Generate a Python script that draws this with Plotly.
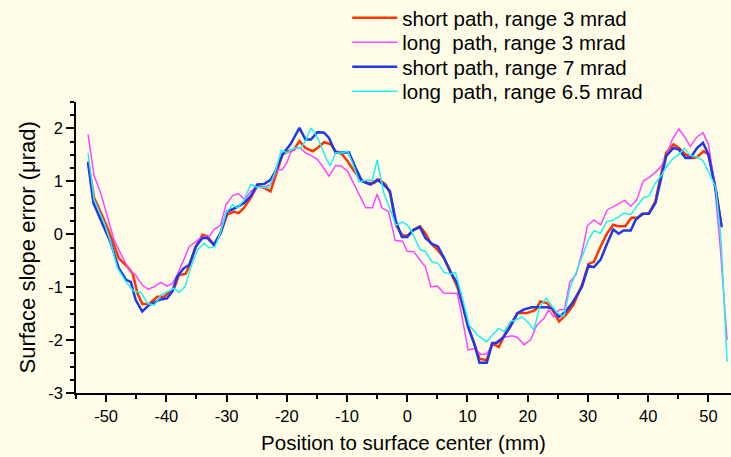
import plotly.graph_objects as go

# ---- data ----
x_red = [-53.0,-52.0,-50.6,-49.2,-47.9,-46.5,-45.6,-44.8,-44.0,-42.9,-41.5,-40.4,-38.7,-37.9,-36.8,-36.2,-35.1,-34.0,-33.2,-32.1,
         -31.0,-29.9,-28.8,-28.0,-27.1,-26.0,-24.9,-23.8,-22.7,-21.9,-20.7,-19.7,-18.8,-17.9,-16.9,-15.7,-14.9,-13.8,-12.7,-11.9,
         -10.8,-9.9,-8.8,-7.7,-6.6,-5.5,-4.7,-3.6,-2.8,-1.9,-0.8,0.0,1.1,2.1,3.0,3.9,5.0,6.1,7.2,8.3,
         9.4,10.3,11.1,12.0,13.2,14.1,15.2,16.3,17.1,18.3,19.9,21.3,22.1,23.2,24.1,25.2,26.3,27.6,29.0,30.1,
         31.0,32.1,33.2,34.2,35.1,36.2,37.2,38.2,39.3,40.1,41.2,42.0,43.0,44.2,45.1,46.2,47.3,48.1,49.2,50.0,
         51.2,52.2]
y_red = [1.38,0.69,0.34,-0.04,-0.45,-0.61,-0.74,-1.11,-1.32,-1.32,-1.18,-1.18,-1.02,-0.77,-0.75,-0.60,-0.23,-0.01,-0.04,-0.20,
         0.02,0.37,0.43,0.40,0.50,0.69,0.91,0.88,0.81,1.10,1.51,1.57,1.60,1.76,1.63,1.57,1.63,1.74,1.70,1.57,
         1.51,1.38,1.19,1.03,0.97,0.97,1.04,0.94,0.76,0.18,-0.02,-0.03,0.09,0.15,0.02,-0.17,-0.29,-0.45,-0.71,-0.99,
         -1.43,-1.81,-2.06,-2.35,-2.38,-2.06,-2.13,-1.87,-1.72,-1.49,-1.49,-1.43,-1.27,-1.30,-1.43,-1.65,-1.53,-1.33,-0.96,-0.56,
         -0.52,-0.23,0.02,0.18,0.15,0.15,0.31,0.31,0.39,0.39,0.62,1.07,1.54,1.70,1.63,1.51,1.44,1.46,1.57,1.51,
         0.87,0.15]

x_magenta = [-53.0,-52.0,-50.9,-49.8,-48.7,-47.6,-46.2,-45.1,-44.0,-43.0,-42.0,-40.9,-39.9,-39.0,-38.2,-37.1,-36.2,-35.1,-34.0,-32.9,
             -32.1,-31.0,-30.1,-29.0,-28.0,-27.0,-26.0,-24.9,-23.8,-22.7,-21.6,-20.8,-20.0,-19.4,-18.6,-17.7,-16.9,-16.0,-14.9,-14.1,
             -13.0,-11.9,-11.0,-9.9,-9.1,-8.3,-7.7,-6.9,-5.8,-5.0,-4.2,-3.1,-2.0,-0.8,0.0,1.1,2.2,3.0,3.9,5.0,
             6.1,7.2,8.3,9.1,10.1,11.2,12.2,13.2,14.1,15.2,16.3,17.4,18.3,19.4,20.5,21.5,22.7,23.5,24.3,25.2,
             26.1,27.0,28.0,29.0,29.9,31.0,32.1,33.2,34.3,35.4,36.1,37.1,38.1,39.2,40.1,41.2,42.2,43.0,44.0,45.1,
             46.0,47.0,48.1,49.1,50.0,51.0,52.0,53.1]
y_magenta = [1.89,1.11,0.78,0.34,-0.10,-0.36,-0.67,-0.77,-0.96,-1.04,-0.99,-0.91,-0.98,-0.93,-0.77,-0.48,-0.23,-0.14,-0.04,-0.04,
             0.09,0.17,0.56,0.73,0.77,0.65,0.81,0.89,0.89,0.94,1.22,1.22,1.35,1.54,1.63,1.62,1.54,1.49,1.41,1.29,
             1.10,1.30,1.29,1.19,1.00,0.84,0.69,0.50,0.50,0.76,0.50,0.43,-0.12,-0.13,-0.32,-0.33,-0.50,-0.61,-0.99,-0.98,
             -1.11,-1.11,-1.12,-1.56,-2.19,-2.16,-2.27,-2.26,-2.09,-2.00,-1.94,-1.92,-1.95,-2.09,-1.99,-1.72,-1.59,-1.43,-1.56,-1.43,
             -1.42,-0.90,-0.77,-0.35,0.16,0.27,0.18,0.46,0.53,0.59,0.64,0.53,0.65,1.01,1.07,1.17,1.29,1.48,1.79,1.99,
             1.85,1.66,1.84,1.92,1.70,0.97,-0.29,-2.00]

x_blue = [-53.0,-52.1,-49.2,-47.9,-46.7,-45.9,-45.1,-44.0,-42.9,-41.2,-39.9,-39.0,-38.2,-37.1,-36.2,-35.1,-34.0,-33.2,-32.1,-31.0,
          -29.9,-28.5,-27.1,-26.0,-24.9,-23.8,-22.7,-21.9,-20.7,-19.4,-17.9,-16.9,-16.0,-14.9,-13.8,-13.0,-11.9,-10.8,-9.7,-8.6,
          -7.5,-6.1,-5.0,-3.9,-2.9,-1.9,-0.9,0.0,0.9,2.1,3.0,4.1,5.1,6.1,7.2,8.3,9.1,10.1,11.1,12.0,
          13.2,14.1,14.9,16.0,17.1,18.3,19.4,20.7,22.1,23.2,24.1,25.2,26.3,27.4,29.0,30.1,31.0,32.1,33.2,34.2,
          35.1,35.9,37.1,37.9,39.0,40.1,41.2,42.0,43.0,44.2,45.1,46.2,47.0,48.1,49.1,50.0,51.2,52.2]
y_blue = [1.35,0.59,-0.17,-0.64,-0.86,-0.90,-1.24,-1.46,-1.34,-1.24,-1.21,-1.08,-0.80,-0.64,-0.58,-0.23,-0.07,-0.07,-0.20,0.02,
          0.43,0.50,0.59,0.72,0.94,0.95,1.03,1.19,1.51,1.70,2.01,1.79,1.79,1.93,1.92,1.82,1.54,1.54,1.55,1.26,
          1.00,0.94,1.03,0.94,0.82,0.25,-0.05,-0.05,0.07,0.14,-0.07,-0.18,-0.23,-0.45,-0.71,-0.93,-1.30,-1.75,-2.06,-2.43,
          -2.43,-2.06,-2.05,-1.94,-1.75,-1.49,-1.42,-1.38,-1.38,-1.38,-1.40,-1.56,-1.46,-1.30,-0.99,-0.59,-0.62,-0.48,-0.17,0.09,
          0.01,0.07,0.07,0.27,0.39,0.39,0.59,1.00,1.48,1.63,1.60,1.44,1.44,1.63,1.73,1.51,0.84,0.13]

x_cyan = [-53.0,-52.0,-50.3,-49.2,-48.1,-46.7,-45.4,-44.2,-43.1,-42.0,-40.9,-39.8,-38.7,-37.9,-36.9,-35.9,-34.8,-33.7,-32.9,-31.9,
          -31.0,-30.1,-29.0,-28.2,-27.1,-26.0,-24.9,-23.8,-23.0,-21.9,-20.9,-20.0,-18.8,-17.7,-16.9,-16.0,-15.2,-14.4,-13.5,-12.8,
          -11.9,-11.0,-9.9,-8.8,-8.0,-6.9,-5.8,-5.0,-3.9,-2.8,-1.9,-0.8,0.0,0.8,2.1,3.0,4.1,5.1,6.1,7.2,
          8.0,9.1,10.3,11.7,13.2,14.1,15.2,16.1,17.1,18.0,19.1,20.2,21.0,22.0,23.1,24.1,24.9,26.0,27.0,28.1,
          29.2,30.1,31.0,32.1,33.1,34.0,35.1,35.9,37.1,38.2,39.2,40.1,41.2,42.3,43.1,44.1,45.1,46.0,47.0,48.1,
          49.1,50.0,51.2,52.1,53.1]
y_cyan = [1.54,0.65,0.21,-0.17,-0.64,-0.90,-1.08,-1.10,-1.31,-1.34,-1.15,-1.08,-1.02,-1.10,-0.99,-0.61,-0.29,-0.17,-0.26,-0.23,
          0.03,0.40,0.56,0.50,0.65,0.94,0.89,0.89,0.87,1.19,1.59,1.54,1.63,1.63,1.76,2.01,1.89,1.70,1.44,1.29,
          1.54,1.53,1.57,1.26,0.99,1.02,1.02,1.40,0.78,0.46,0.17,0.23,0.18,0.04,-0.29,-0.32,-0.52,-0.55,-0.72,-0.75,
          -0.72,-1.18,-1.72,-1.91,-2.03,-1.91,-1.78,-1.84,-1.65,-1.62,-1.56,-1.68,-1.81,-1.37,-1.21,-1.37,-1.49,-1.55,-1.02,-0.70,
          -0.36,-0.10,0.07,0.02,0.24,0.26,0.33,0.40,0.37,0.53,0.69,0.72,0.97,1.13,1.29,1.43,1.51,1.62,1.49,1.46,
          1.39,1.19,0.89,-0.10,-2.41]

names = ["short path, range 3 mrad", "long\u00a0 path, range 3 mrad",
         "short path, range 7 mrad", "long\u00a0 path, range 6.5 mrad"]

x_tickvals = [-50, -40, -30, -20, -10, 0, 10, 20, 30, 40, 50]
x_ticktext = ["-50", "-40", "-30", "-20", "-10", "0", "10", "20", "30", "40", "50"]
y_tickvals = [-3, -2, -1, 0, 1, 2]
y_ticktext = ["-3", "-2", "-1", "0", "1", "2"]

BG = "#FFFDE8"
FONT = "Liberation Sans, Arial, sans-serif"

series = [
    (x_red, y_red, "#FF3300", 2.5),
    (x_magenta, y_magenta, "#FF44FF", 1.5),
    (x_blue, y_blue, "#1F38E8", 2.5),
    (x_cyan, y_cyan, "#1EF2F2", 1.5),
]
legend_ids = ["legend", "legend2", "legend3", "legend4"]
legend_rows_px = [18, 42.5, 67, 91.5]  # vertical centres of the legend rows

fig = go.Figure()
for (xs, ys, col, w), nm, lid in zip(series, names, legend_ids):
    fig.add_trace(go.Scatter(x=xs, y=ys, mode="lines", name=nm, legend=lid,
                             line=dict(color=col, width=w)))

H = 457
legend_layout = {}
for lid, rowpx in zip(legend_ids, legend_rows_px):
    legend_layout[lid] = dict(xref="container", yref="container", x=0.475, y=1 - rowpx / H,
                              xanchor="left", yanchor="middle", bgcolor="rgba(0,0,0,0)",
                              itemwidth=45,
                              font=dict(size=20.5, family=FONT, color="black"))

fig.update_layout(
    width=731, height=H,
    margin=dict(l=76, r=0, t=102, b=64, autoexpand=False),
    paper_bgcolor=BG, plot_bgcolor=BG,
    font=dict(family=FONT, color="black", size=16),
    showlegend=True,
    xaxis=dict(range=[-55, 53.75], showgrid=False, zeroline=False,
               showline=True, linecolor="black", linewidth=1.5,
               ticks="outside", tickcolor="black", ticklen=7, tickwidth=1.5,
               tickmode="array", tickvals=x_tickvals, ticktext=x_ticktext,
               tickfont=dict(size=16.5),
               minor=dict(dtick=5, tick0=0, ticks="outside", ticklen=4, tickcolor="black", tickwidth=1.5),
               title=dict(text="Position to surface center (mm)", font=dict(size=20.5), standoff=12)),
    yaxis=dict(range=[-3, 2.5], showgrid=False, zeroline=False,
               showline=True, linecolor="black", linewidth=1.5,
               ticks="outside", tickcolor="black", ticklen=8, tickwidth=1.5,
               tickmode="array", tickvals=y_tickvals, ticktext=y_ticktext,
               tickfont=dict(size=16.5),
               minor=dict(dtick=0.25, tick0=0, ticks="outside", ticklen=4, tickcolor="black", tickwidth=1.5)),
    annotations=[dict(text="Surface slope error (μrad)", textangle=-90,
                      xref="paper", yref="paper", x=-0.0733, y=0.5,
                      xanchor="center", yanchor="middle", showarrow=False,
                      font=dict(size=22, family=FONT, color="black"))],
)
fig.update_layout(**legend_layout)

fig.write_html("out.html")
